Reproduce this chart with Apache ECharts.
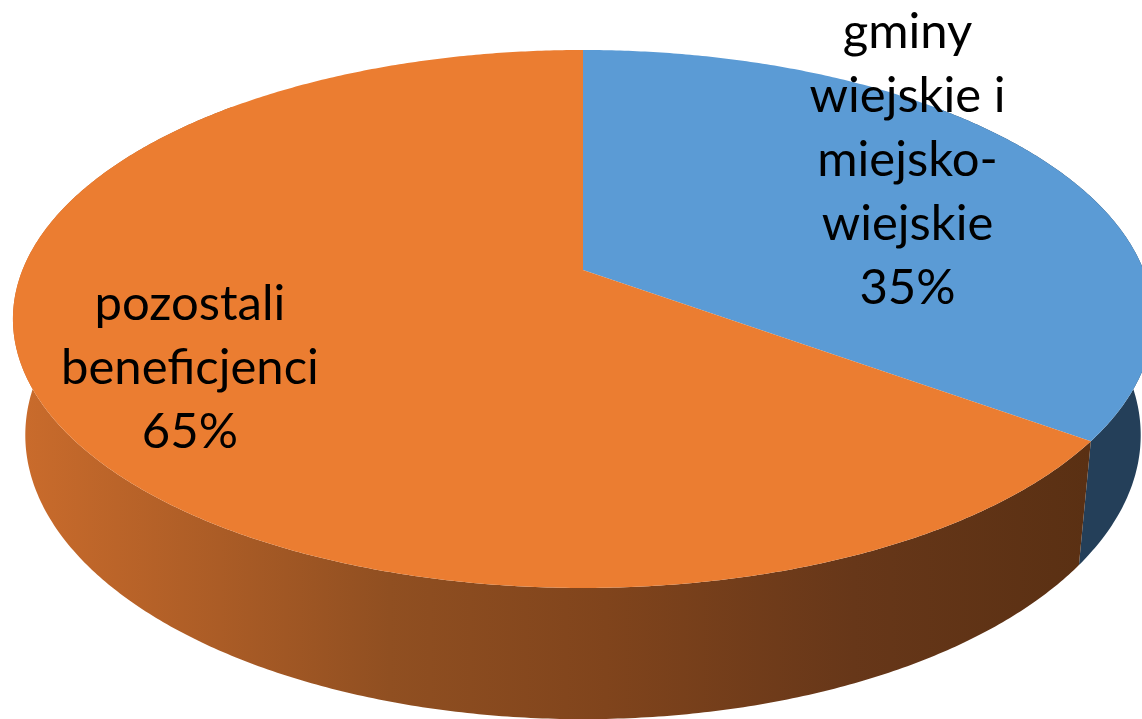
<!DOCTYPE html>
<html>
<head>
<meta charset="utf-8">
<script src="https://cdn.jsdelivr.net/npm/echarts@6/dist/echarts.min.js"></script>
<style>
html,body{margin:0;padding:0;background:#fff;}
#chart{width:1142px;height:719px;}
</style>
</head>
<body>
<div id="chart"></div>
<script>
// ---- data ----
const categories = ['gminy wiejskie i miejsko-wiejskie', 'pozostali beneficjenci'];
const values = [35, 65];
const labelLines = [
  ['gminy', 'wiejskie i', 'miejsko-', 'wiejskie'],
  ['pozostali', 'beneficjenci']
];

// ---- style / layout ----
const topColors = ['#5B9BD5', '#EB7D31'];
const wallColors = [
  '#243F59',
  { type: 'linear', x: 0, y: 0, x2: 1, y2: 0, colorStops: [
    { offset: 0, color: '#CB6C2C' },
    { offset: 0.35, color: '#904F21' },
    { offset: 0.55, color: '#80441C' },
    { offset: 0.78, color: '#673719' },
    { offset: 1, color: '#5A3013' }
  ]}
];
const labelOffset = [[-6, -32], [-22, 10]];
const labelR = 0.7;

// 3D projection parameters (perspective tilted pie)
const P = { cx: 583, cy: 270, D: 4.89, s: 0.4555, c: 0.8904, Kx: 2741, Ky: 2792, h: 0.23 };
function project(theta, r, height) {
  const t = theta * Math.PI / 180;
  const u = r * Math.sin(t);
  const v = -r * Math.cos(t);
  const ycam = v * P.s - height * P.c;
  const z = P.D - v * P.c - height * P.s;
  return [P.cx + P.Kx * u / z, P.cy + P.Ky * ycam / z];
}

const total = values.reduce((a, b) => a + b, 0);
const cum = [0];
values.forEach(v => cum.push(cum[cum.length - 1] + v));

function renderItem(params, api) {
  const i = params.dataIndex;
  const a0 = cum[i] / total * 360;
  const a1 = cum[i + 1] / total * 360;
  const children = [];
  // wall (front part only)
  const w0 = Math.max(a0, 45), w1 = Math.min(a1, 315);
  if (w1 > w0) {
    const pts = [];
    const n = Math.ceil((w1 - w0) / 0.5);
    for (let k = 0; k <= n; k++) pts.push(project(w0 + (w1 - w0) * k / n, 1, 0));
    for (let k = n; k >= 0; k--) pts.push(project(w0 + (w1 - w0) * k / n, 1, -P.h));
    children.push({ type: 'polygon', shape: { points: pts }, style: { fill: wallColors[i] }, z2: 1 });
  }
  // top face
  const top = [project(0, 0, 0)];
  const m = Math.ceil((a1 - a0) / 0.5);
  for (let k = 0; k <= m; k++) top.push(project(a0 + (a1 - a0) * k / m, 1, 0));
  children.push({ type: 'polygon', shape: { points: top }, style: { fill: topColors[i] }, z2: 5 });
  // label
  const mid = (a0 + a1) / 2;
  const anchor = project(mid, labelR, 0);
  const text = labelLines[i].concat([Math.round(api.value(0) / total * 100) + '%']).join('\n');
  children.push({
    type: 'text', z2: 10,
    style: {
      text: text,
      x: anchor[0] + labelOffset[i][0],
      y: anchor[1] + labelOffset[i][1],
      fill: '#000',
      font: '49px Lato',
      lineHeight: 64,
      align: 'center',
      verticalAlign: 'middle'
    }
  });
  return { type: 'group', children: children };
}

const chart = echarts.init(document.getElementById('chart'), null, { renderer: 'canvas' });
chart.setOption({
  backgroundColor: '#fff',
  animation: false,
  series: [{
    type: 'custom',
    coordinateSystem: 'none',
    renderItem: renderItem,
    data: values.map((v, i) => ({ name: categories[i], value: [v] }))
  }]
});
</script>
</body>
</html>
